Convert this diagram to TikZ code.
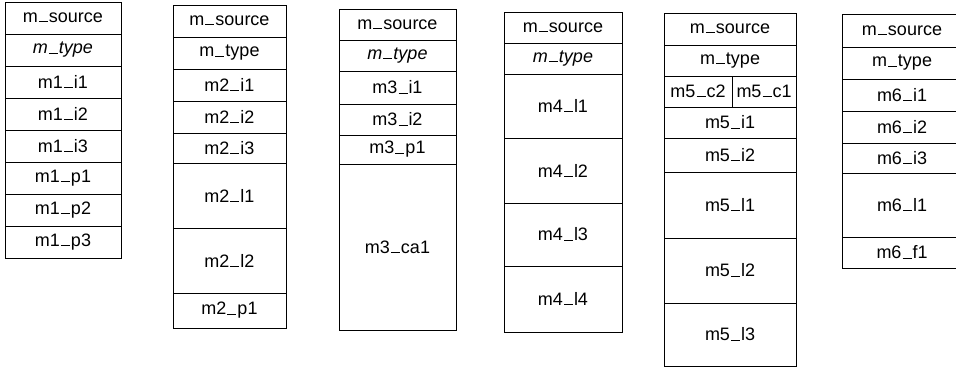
\documentclass[tikz,border=0pt]{standalone}
\usepackage{fontspec}
\setmainfont{Liberation Sans}
\usetikzlibrary{positioning}
\newcommand\us{\kern1pt\rule[0.3pt]{9pt}{1.1pt}\kern1pt}

\begin{document}
\begin{tikzpicture}[x=1pt, y=-1pt, line width=1pt,
  cell/.style={draw, outer sep=0pt, inner sep=0pt, minimum height=32,
    font=\fontsize{18}{21}\selectfont},
  w1/.style={cell, minimum width=116},
  w2/.style={cell, minimum width=113},
  w3/.style={cell, minimum width=117, minimum height=31},
  w4/.style={cell, minimum width=118, minimum height=31},
  w5/.style={cell, minimum width=132},
  w6/.style={cell, minimum width=120}]
\useasboundingbox (0,0) rectangle (956,370);

% record 1
\node (c1a) at (5,2) [w1, anchor=north west]{m\us source};
\node (c1b) [w1, below=0pt of c1a]{\textit{m\us type}};
\node (c1c) [w1, below=0pt of c1b]{m1\us i1};
\node (c1d) [w1, below=0pt of c1c]{m1\us i2};
\node (c1e) [w1, below=0pt of c1d]{m1\us i3};
\node (c1f) [w1, below=0pt of c1e]{m1\us p1};
\node (c1g) [w1, below=0pt of c1f]{m1\us p2};
\node (c1h) [w1, below=0pt of c1g]{m1\us p3};

% record 2
\node (c2a) at (173,5) [w2, anchor=north west]{m\us source};
\node (c2b) [w2, below=0pt of c2a]{m\us type};
\node (c2c) [w2, below=0pt of c2b]{m2\us i1};
\node (c2d) [w2, below=0pt of c2c]{m2\us i2};
\node (c2e) [w2, below=0pt of c2d, minimum height=30]{m2\us i3};
\node (c2f) [w2, below=0pt of c2e, minimum height=65]{m2\us l1};
\node (c2g) [w2, below=0pt of c2f, minimum height=65]{m2\us l2};
\node (c2h) [w2, below=0pt of c2g, minimum height=35]{m2\us p1};

% record 3
\node (c3a) at (339,9) [w3, anchor=north west]{m\us source};
\node (c3b) [w3, below=0pt of c3a]{\textit{m\us type}};
\node (c3c) [w3, below=0pt of c3b, minimum height=33]{m3\us i1};
\node (c3d) [w3, below=0pt of c3c]{m3\us i2};
\node (c3e) [w3, below=0pt of c3d, minimum height=29]{m3\us p1};
\node (c3f) [w3, below=0pt of c3e, minimum height=166]{m3\us ca1};

% record 4
\node (c4a) at (504,12) [w4, anchor=north west]{m\us source};
\node (c4b) [w4, below=0pt of c4a]{\textit{m\us type}};
\node (c4c) [w4, below=0pt of c4b, minimum height=64]{m4\us l1};
\node (c4d) [w4, below=0pt of c4c, minimum height=65]{m4\us l2};
\node (c4e) [w4, below=0pt of c4d, minimum height=63]{m4\us l3};
\node (c4f) [w4, below=0pt of c4e, minimum height=66]{m4\us l4};

% record 5
\node (c5a) at (664,13) [w5, anchor=north west]{m\us source};
\node (c5b) [w5, below=0pt of c5a, minimum height=31]{m\us type};
\node (c5c) at (c5b.south west) [cell, minimum width=68, minimum height=31, anchor=north west]{m5\us c2};
\node (c5d) [cell, minimum width=64, minimum height=31, right=0pt of c5c]{m5\us c1};
\node (c5e) at (c5c.south west) [w5, minimum height=31, anchor=north west]{m5\us i1};
\node (c5f) [w5, below=0pt of c5e, minimum height=34]{m5\us i2};
\node (c5g) [w5, below=0pt of c5f, minimum height=66]{m5\us l1};
\node (c5h) [w5, below=0pt of c5g, minimum height=65]{m5\us l2};
\node (c5i) [w5, below=0pt of c5h, minimum height=63]{m5\us l3};

% record 6
\node (c6a) at (842,14) [w6, anchor=north west, minimum height=33]{m\us source};
\node (c6b) [w6, below=0pt of c6a]{m\us type};
\node (c6c) [w6, below=0pt of c6b]{m6\us i1};
\node (c6d) [w6, below=0pt of c6c]{m6\us i2};
\node (c6e) [w6, below=0pt of c6d, minimum height=30]{m6\us i3};
\node (c6f) [w6, below=0pt of c6e, minimum height=64]{m6\us l1};
\node (c6g) [w6, below=0pt of c6f, minimum height=31]{m6\us f1};

\end{tikzpicture}
\end{document}
